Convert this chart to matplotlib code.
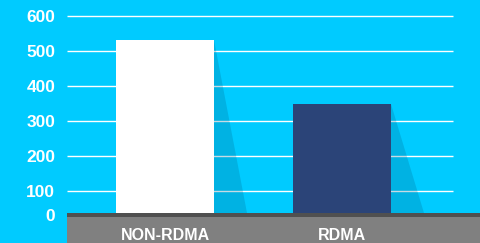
import matplotlib.pyplot as plt
from matplotlib.patches import Polygon

categories = ['NON-RDMA', 'RDMA']
values = [531, 349]
bar_colors = ['#ffffff', '#2b4478']
tick_values = [100, 200, 300, 400, 500, 600]

bg = '#00cbff'
floor_top = 37
strip_bottom = 26
ymin, ymax = -48.6, 645.7

fig = plt.figure(figsize=(4.8, 2.43), dpi=100)
fig.patch.set_facecolor(bg)
ax = fig.add_axes([67 / 480, 0, 1 - 67 / 480, 1])
ax.set_facecolor(bg)
ax.set_xlim(-0.554, 1.78)
ax.set_ylim(ymin, ymax)

# grid lines
ax.hlines(tick_values, -0.554, 1.627, colors='white', linewidth=1.0, zorder=1)

width = 0.554
xs = list(range(len(categories)))
ax.bar(xs, values, width=width, color=bar_colors, zorder=3)

# diagonal shadows
for x, v in zip(xs, values):
    right = x + width / 2
    poly = Polygon([(right, v), (right, floor_top), (right + 0.186, floor_top)],
                   closed=True, facecolor='#005a80', alpha=0.22, edgecolor='none', zorder=2)
    ax.add_patch(poly)

# floor
ax.axhspan(ymin, strip_bottom, xmin=0, xmax=1, color='#808080', zorder=4, linewidth=0)
ax.axhspan(strip_bottom, floor_top, xmin=0, xmax=1, color='#505050', zorder=4, linewidth=0)

for x, c in zip(xs, categories):
    ax.text(x, -28, c, ha='center', va='center', color='white', fontsize=11.5,
            fontweight='bold', family='Liberation Sans', zorder=5)

ax.set_yticks([31] + tick_values)
ax.set_yticklabels(['0'] + [str(t) for t in tick_values])
ax.tick_params(axis='y', length=0, pad=8.5, labelcolor='white', labelsize=12.5)
for lbl in ax.get_yticklabels():
    lbl.set_fontweight('bold')
    lbl.set_family('Liberation Sans')
ax.set_xticks([])
for s in ax.spines.values():
    s.set_visible(False)

fig.savefig('out.png', dpi=100, facecolor=bg)
